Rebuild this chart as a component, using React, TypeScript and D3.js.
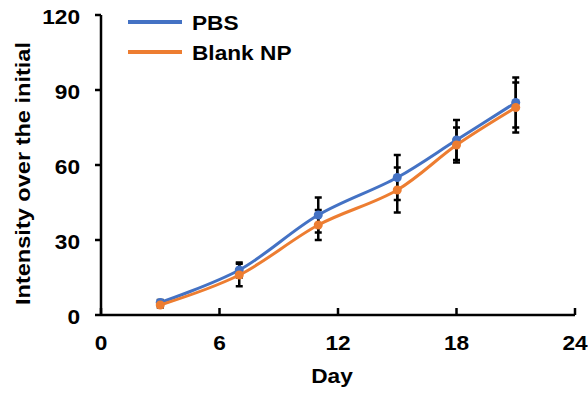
import React from 'react';
import {scaleLinear, line, curveCatmullRom} from 'd3';

// data
const days = [3, 7, 11, 15, 18, 21];
const pbs = [5, 18, 40, 55, 70, 85];
const pbsErr = [1, 3, 7, 9, 8, 10];
const blank = [4, 16, 36, 50, 68, 83];
const blankErr = [1, 4.5, 6, 9, 7, 10];
const xTicks = [0, 6, 12, 18, 24];
const yTicks = [0, 30, 60, 90, 120];

const series = [
    {name: 'PBS', values: pbs, err: pbsErr, color: '#4472C4'},
    {name: 'Blank NP', values: blank, err: blankErr, color: '#ED7D31'},
];

const W = 588, H = 394;
const font = 'Liberation Sans, Arial, sans-serif';

// bold text, a bit wider than normal like the original
const T = ({x, y, anchor = 'start', children}: any) => (
    <text transform={`translate(${x},${y}) scale(1.08,1)`} textAnchor={anchor}
          fontSize={21} fontWeight="bold" fill="#000">{children}</text>
);

const App = () => {
    const x = scaleLinear().domain([0, 24]).range([101, 575]);
    const y = scaleLinear().domain([0, 120]).range([315, 15]);

    const path = (vals: number[]) =>
        line<number>()
            .x((d, i) => x(days[i]))
            .y(d => y(d))
            .curve(curveCatmullRom.alpha(0.5))(vals) || '';

    return (
        <svg width={W} height={H} style={{position: 'absolute', left: 0, top: 0}} fontFamily={font}>
            <rect width={W} height={H} fill="#fff"/>

            {/* error bars */}
            {series.map(s => days.map((d, i) => {
                const cx = x(d);
                const y1 = y(s.values[i] + s.err[i]);
                const y2 = y(s.values[i] - s.err[i]);
                return (
                    <g key={s.name + d} stroke="#000" strokeWidth={2.5}>
                        <line x1={cx} x2={cx} y1={y1} y2={y2}/>
                        <line x1={cx - 3.5} x2={cx + 3.5} y1={y1} y2={y1}/>
                        <line x1={cx - 3.5} x2={cx + 3.5} y1={y2} y2={y2}/>
                    </g>
                );
            }))}

            {/* lines + markers */}
            {series.map(s => (
                <g key={s.name}>
                    <path d={path(s.values)} fill="none" stroke={s.color} strokeWidth={3}/>
                    {s.values.map((v, i) => (
                        <circle key={i} cx={x(days[i])} cy={y(v)} r={4.5} fill={s.color}/>
                    ))}
                </g>
            ))}

            {/* y axis */}
            <line x1={x(0)} x2={x(0)} y1={y(120)} y2={y(0)} stroke="#000" strokeWidth={2.5}/>
            {yTicks.map(t => (
                <g key={t}>
                    <line x1={x(0) - 6} x2={x(0)} y1={y(t)} y2={y(t)} stroke="#000" strokeWidth={2.5}/>
                    <T x={80} y={y(t) + 9} anchor="end">{t}</T>
                </g>
            ))}

            {/* x axis */}
            <line x1={x(0)} x2={x(24)} y1={y(0)} y2={y(0)} stroke="#000" strokeWidth={2.5}/>
            {xTicks.map(t => (
                <g key={t}>
                    <line x1={x(t)} x2={x(t)} y1={y(0) - 7} y2={y(0)} stroke="#000" strokeWidth={2.5}/>
                    <T x={x(t)} y={350} anchor="middle">{t}</T>
                </g>
            ))}

            <T x={332} y={383} anchor="middle">Day</T>
            <text transform="translate(30,173.5) rotate(-90)" textAnchor="middle" fontSize={21}
                  fontWeight="bold" textLength={263} lengthAdjust="spacingAndGlyphs">Intensity over the initial</text>

            {/* legend */}
            {series.map((s, i) => (
                <g key={s.name}>
                    <line x1={128} x2={182} y1={22 + i * 30} y2={22 + i * 30} stroke={s.color} strokeWidth={4}/>
                    <T x={192} y={29.5 + i * 30}>{s.name}</T>
                </g>
            ))}
        </svg>
    );
};

export default App;
